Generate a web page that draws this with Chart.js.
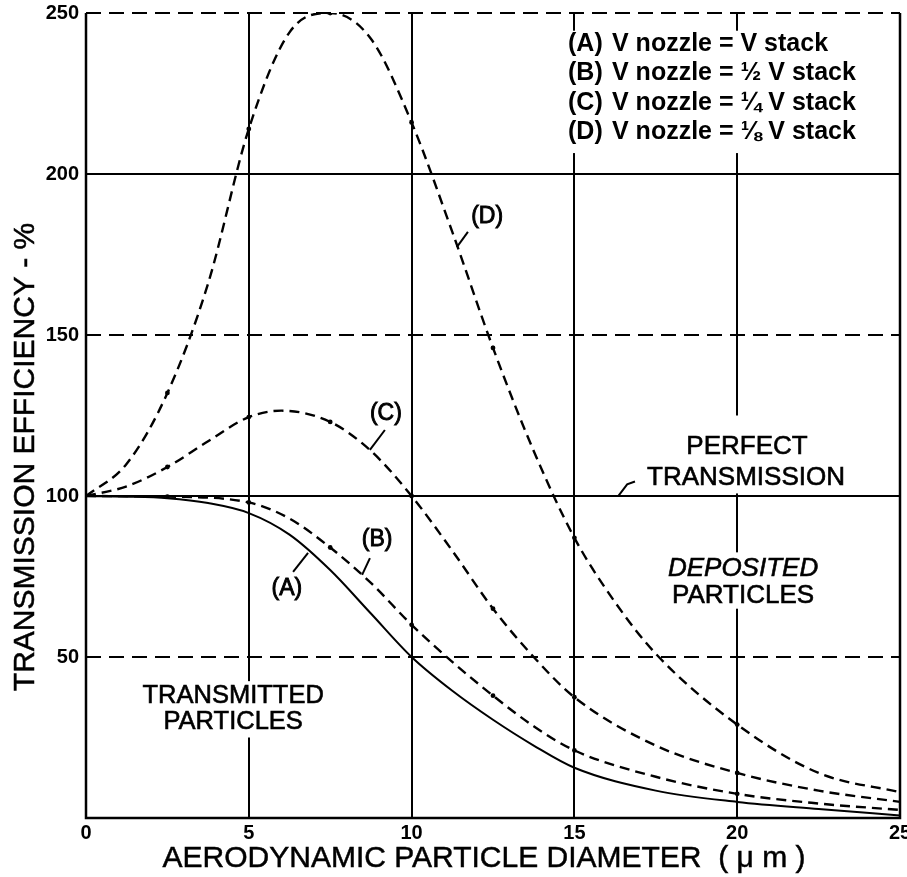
<!DOCTYPE html>
<html>
<head>
<meta charset="utf-8">
<script src="https://cdn.jsdelivr.net/npm/chart.js@4.4.0/dist/chart.umd.min.js"></script>
<style>
html,body{margin:0;padding:0;background:#fff;}
#wrap{width:907px;height:877px;}
</style>
</head>
<body>
<div id="wrap"><canvas id="c" width="907" height="877"></canvas></div>
<script>
// ---- data ----
const xTicks = [0, 5, 10, 15, 20, 25];
const yTicks = [0, 50, 100, 150, 200, 250];
const yGridSolid = [100, 200];
const yGridDashed = [50, 150, 250];
const xGridSolid = [5, 10, 15, 20];
const dotXs = [2.5, 5, 7.5, 10, 12.5, 15, 20];

const seriesNames = ['(A)', '(B)', '(C)', '(D)'];
const legendTexts = ['V nozzle = V stack', 'V nozzle = \u00BD V stack', 'V nozzle = \u00BC V stack', 'V nozzle = \u215B V stack'];

const aX = [0, 1.25, 2.5, 3.75, 5, 6.25, 7.5, 8.75, 10, 11.25, 12.5, 13.75, 15, 17.5, 20, 22.5, 25];
const aY = [100, 99.8, 99.3, 97.8, 94.7, 88, 77, 63.5, 50, 39.5, 30.5, 22.5, 15.6, 8.5, 5, 2.8, 0.8];

const bX = [0, 2.5, 5, 6.25, 7.5, 8.75, 10, 11.25, 12.5, 13.75, 15, 17.5, 20, 22.5, 25];
const bY = [100, 99.8, 98, 93, 84, 73, 60, 48.5, 38, 28.5, 21, 12.8, 7.5, 4.5, 2.5];

const cX = [0, 1.25, 2.5, 3.75, 5, 6, 7.5, 8.75, 10, 11.25, 12.5, 13.75, 15, 17.5, 20, 22.5, 25];
const cY = [100, 103, 109, 117, 124.5, 126.5, 123, 114, 100, 83, 65, 50, 37.5, 22.5, 14, 8.5, 5];

const dX = [0, 1.25, 2.5, 3.75, 5, 6.25, 7.5, 8.75, 10, 11.25, 12.5, 13.75, 15, 16.25, 17.5, 20, 22.5, 25];
const dY = [100, 110, 132, 166, 214, 244, 250, 242, 216, 182, 146, 114, 87, 67, 51, 29, 14, 8];

const xTitle = 'AERODYNAMIC PARTICLE DIAMETER  ( \u03BC m )';
const yTitle = 'TRANSMISSION EFFICIENCY - %';

// ---- helpers ----
function pts(xs, ys){ return xs.map((x,i)=>({x:x, y:ys[i]})); }
const dotR = (ctx) => {
  const r = ctx.raw; if(!r) return 0;
  return dotXs.some(v => Math.abs(v - r.x) < 1e-6) ? 2.4 : 0;
};
const FONT = '"Liberation Sans", Arial, Helvetica, sans-serif';

const decor = {
  id: 'decor',
  beforeDatasetsDraw(chart){
    const {ctx, chartArea:a, scales:{x, y}} = chart;
    ctx.save();
    ctx.strokeStyle = '#000';
    ctx.lineWidth = 2;
    yGridSolid.forEach(v => {
      const py = Math.round(y.getPixelForValue(v));
      ctx.setLineDash([]); ctx.beginPath(); ctx.moveTo(a.left, py); ctx.lineTo(a.right, py); ctx.stroke();
    });
    yGridDashed.forEach(v => {
      const py = Math.round(y.getPixelForValue(v));
      ctx.setLineDash([15, 8]); ctx.beginPath(); ctx.moveTo(a.left, py); ctx.lineTo(a.right, py); ctx.stroke();
    });
    ctx.setLineDash([]);
    xGridSolid.forEach(v => {
      const px = Math.round(x.getPixelForValue(v));
      ctx.beginPath(); ctx.moveTo(px, a.top); ctx.lineTo(px, a.bottom); ctx.stroke();
    });
    // white boxes behind text labels (gaps in the grid)
    ctx.fillStyle = '#fff';
    const box = (x0, y0, x1, y1) => {
      const p0x = x.getPixelForValue(x0), p1x = x.getPixelForValue(x1);
      const p0y = y.getPixelForValue(y0), p1y = y.getPixelForValue(y1);
      ctx.fillRect(Math.min(p0x,p1x), Math.min(p0y,p1y), Math.abs(p1x-p0x), Math.abs(p1y-p0y));
    };
    box(14.7, 244.5, 24.9, 206.5);    // legend
    box(17.0, 125, 23.8, 100.8);      // perfect transmission
    box(17.6, 82.5, 23.2, 65);        // deposited particles
    box(1.6, 42.5, 7.4, 25);          // transmitted particles
    // border
    ctx.lineWidth = 2.5;
    ctx.beginPath();
    ctx.moveTo(a.left, a.top); ctx.lineTo(a.left, a.bottom); ctx.lineTo(a.right, a.bottom); ctx.lineTo(a.right, a.top);
    ctx.stroke();
    ctx.restore();
  },
  afterDatasetsDraw(chart){
    const {ctx, scales:{x, y}} = chart;
    const P = (vx, vy) => [x.getPixelForValue(vx), y.getPixelForValue(vy)];
    ctx.save();
    ctx.fillStyle = '#000'; ctx.strokeStyle = '#000';
    ctx.textAlign = 'center'; ctx.textBaseline = 'middle';
    const text = (s, vx, vy, font, sw) => {
      const p = P(vx, vy); ctx.font = font; ctx.fillText(s, p[0], p[1]);
      if (sw) { ctx.lineWidth = sw; ctx.strokeText(s, p[0], p[1]); }
    };
    const line = (arr) => { ctx.lineWidth = 2; ctx.setLineDash([]); ctx.beginPath(); arr.forEach((q,i)=>{ const p = P(q[0], q[1]); if(i) ctx.lineTo(p[0], p[1]); else ctx.moveTo(p[0], p[1]); }); ctx.stroke(); };
    const lab = '23px ' + FONT;
    // curve labels
    text(seriesNames[3], 12.32, 186.6, lab, 0.9); line([[11.39,177.3],[11.73,182]]);
    text(seriesNames[2], 9.21, 125.5, lab, 0.9);  line([[8.72,114.3],[9.18,120.5]]);
    text(seriesNames[1], 8.94, 86.3, lab, 0.9);   line([[8.48,75.5],[8.72,80.7]]);
    text(seriesNames[0], 6.17, 71.1, lab, 0.9);   line([[6.36,76.4],[6.82,82.3]]);
    // region labels
    const big = '26px ' + FONT;
    text('PERFECT', 20.3, 115.2, big, 0.6);
    text('TRANSMISSION', 20.27, 105.6, big, 0.6);
    line([[16.34,99.9],[16.62,103.6],[16.86,104.5]]);
    text('DEPOSITED', 20.18, 77.3, 'italic 26px ' + FONT, 0.6);
    text('PARTICLES', 20.18, 68.9, big, 0.6);
    text('TRANSMITTED', 4.52, 37.9, '25.5px ' + FONT, 0.6);
    text('PARTICLES', 4.52, 29.8, '25.5px ' + FONT, 0.6);
    // legend
    ctx.textAlign = 'left';
    ctx.font = 'bold 25px ' + FONT;
    const ly = [44, 73.5, 103, 132.5];
    seriesNames.forEach((n, i) => {
      ctx.fillText(n, 568, ly[i]);
      ctx.fillText(legendTexts[i], 612, ly[i]);
    });
    // axis titles
    ctx.textAlign = 'center';
    ctx.lineWidth = 0.5;
    ctx.font = '30px ' + FONT;
    ctx.fillText(xTitle, 484, 859);
    ctx.strokeText(xTitle, 484, 859);
    ctx.save();
    ctx.translate(26, 457); ctx.rotate(-Math.PI/2);
    ctx.font = '30px ' + FONT;
    ctx.fillText(yTitle, 0, 0);
    ctx.strokeText(yTitle, 0, 0);
    ctx.restore();
    ctx.restore();
  }
};

const dashed = [10, 6];
new Chart(document.getElementById('c'), {
  type: 'scatter',
  data: {
    datasets: [
      {label: seriesNames[0], data: pts(aX, aY), showLine: true, borderColor: '#000', backgroundColor: '#000', borderWidth: 2, pointRadius: 0, cubicInterpolationMode: 'monotone'},
      {label: seriesNames[1], data: pts(bX, bY), showLine: true, borderColor: '#000', backgroundColor: '#000', borderWidth: 2.4, borderDash: dashed, pointRadius: dotR, pointBorderWidth: 0, cubicInterpolationMode: 'monotone'},
      {label: seriesNames[2], data: pts(cX, cY), showLine: true, borderColor: '#000', backgroundColor: '#000', borderWidth: 2.4, borderDash: dashed, pointRadius: dotR, pointBorderWidth: 0, cubicInterpolationMode: 'monotone'},
      {label: seriesNames[3], data: pts(dX, dY), showLine: true, borderColor: '#000', backgroundColor: '#000', borderWidth: 2.4, borderDash: dashed, pointRadius: dotR, pointBorderWidth: 0, cubicInterpolationMode: 'monotone'}
    ]
  },
  options: {
    responsive: false,
    animation: false,
    layout: {padding: {top: 13, right: 7, left: 0, bottom: 0}},
    plugins: {legend: {display: false}, tooltip: {enabled: false}},
    scales: {
      x: {
        type: 'linear', min: 0, max: 25,
        afterBuildTicks: s => { s.ticks = xTicks.map(v => ({value: v})); },
        afterFit: s => { s.height = 59; s.paddingLeft = 0; s.paddingRight = 0; },
        grid: {display: false, drawTicks: false}, border: {display: false},
        ticks: {color: '#000', font: {family: FONT, size: 20, weight: 'bold'}, padding: 3, maxRotation: 0, autoSkip: false}
      },
      y: {
        type: 'linear', min: 0, max: 250,
        afterBuildTicks: s => { s.ticks = yTicks.map(v => ({value: v})); },
        afterFit: s => { s.width = 86; s.paddingTop = 0; s.paddingBottom = 0; },
        grid: {display: false, drawTicks: false}, border: {display: false},
        ticks: {color: '#000', font: {family: FONT, size: 20, weight: 'bold'}, padding: 7, callback: v => v === 0 ? '' : String(v)}
      }
    }
  },
  plugins: [decor]
});
</script>
</body>
</html>
